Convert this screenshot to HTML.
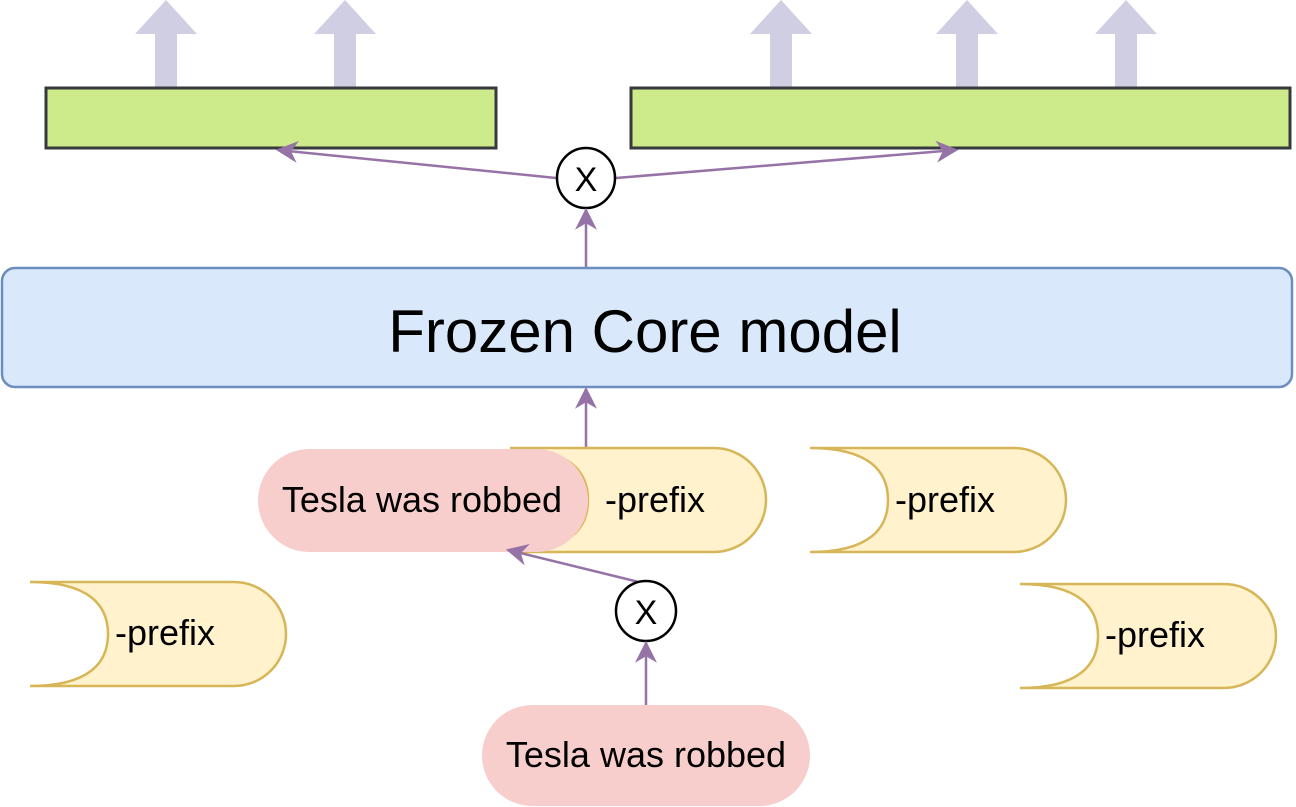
<!DOCTYPE html>
<html><head><style>body{margin:0;background:#fff}svg{display:block}text{font-family:"Liberation Sans",sans-serif}</style></head><body>
<svg width="1296" height="807" viewBox="0 0 1296 807" xmlns="http://www.w3.org/2000/svg">
<defs>
<marker id="b" viewBox="0 0 10 10" refX="9" refY="5" markerWidth="22" markerHeight="22" orient="auto" markerUnits="userSpaceOnUse"><path d="M0,0 L10,5 L0,10 L3,5 Z" fill="#9673a6"/></marker>
<g id="up"><polygon points="-31,34 0,0 31,34 11,34 11,88 -11,88 -11,34" fill="#d0cee2"/></g>
<path id="pf" d="M0,0 H204 A52,52 0 0 1 204,104 H0 C60,104 78,80 78,52 C78,24 60,0 0,0 Z" fill="#fff2cc" stroke="#d6b656" stroke-width="2.5"/>
</defs>
<use href="#up" x="166" y="0"/><use href="#up" x="345" y="0"/>
<use href="#up" x="781" y="0"/><use href="#up" x="967" y="0"/><use href="#up" x="1126" y="0"/>
<rect x="46" y="88" width="450" height="60" fill="#cdeb8b" stroke="#36393d" stroke-width="3"/>
<rect x="631" y="88" width="659" height="60" fill="#cdeb8b" stroke="#36393d" stroke-width="3"/>
<line x1="556" y1="178" x2="278" y2="150" stroke="#9673a6" stroke-width="2.5" marker-end="url(#b)"/>
<line x1="616" y1="178" x2="956" y2="150" stroke="#9673a6" stroke-width="2.5" marker-end="url(#b)"/>
<ellipse cx="586" cy="178" rx="29" ry="30" fill="#fff" stroke="#000" stroke-width="2.5"/>
<text x="586" y="191" font-size="34" text-anchor="middle">X</text>
<line x1="586" y1="268" x2="586" y2="210" stroke="#9673a6" stroke-width="2.5" marker-end="url(#b)"/>
<rect x="2" y="268" width="1290" height="119" rx="13" fill="#dae8fc" stroke="#6c8ebf" stroke-width="2.5"/>
<text x="645" y="352" font-size="60" text-anchor="middle">Frozen Core model</text>
<line x1="586" y1="448" x2="586" y2="389" stroke="#9673a6" stroke-width="2.5" marker-end="url(#b)"/>
<use href="#pf" x="510" y="448"/>
<text x="655" y="512" font-size="36" text-anchor="middle">-prefix</text>
<rect x="258" y="449" width="330" height="103" rx="51.5" fill="#f8cecc"/>
<text x="422" y="512" font-size="36" text-anchor="middle">Tesla was robbed</text>
<use href="#pf" x="810" y="448"/>
<text x="945" y="512" font-size="36" text-anchor="middle">-prefix</text>
<use href="#pf" x="30" y="582"/>
<text x="165" y="645" font-size="36" text-anchor="middle">-prefix</text>
<use href="#pf" x="1020" y="584"/>
<text x="1155" y="647" font-size="36" text-anchor="middle">-prefix</text>
<line x1="643" y1="583" x2="508" y2="550" stroke="#9673a6" stroke-width="2.5" marker-end="url(#b)"/>
<ellipse cx="646" cy="611" rx="30" ry="30" fill="#fff" stroke="#000" stroke-width="2.5"/>
<text x="646" y="624" font-size="34" text-anchor="middle">X</text>
<line x1="646" y1="705" x2="646" y2="643" stroke="#9673a6" stroke-width="2.5" marker-end="url(#b)"/>
<rect x="482" y="705" width="328" height="101" rx="50.5" fill="#f8cecc"/>
<text x="646" y="767" font-size="36" text-anchor="middle">Tesla was robbed</text>
</svg>
</body></html>
